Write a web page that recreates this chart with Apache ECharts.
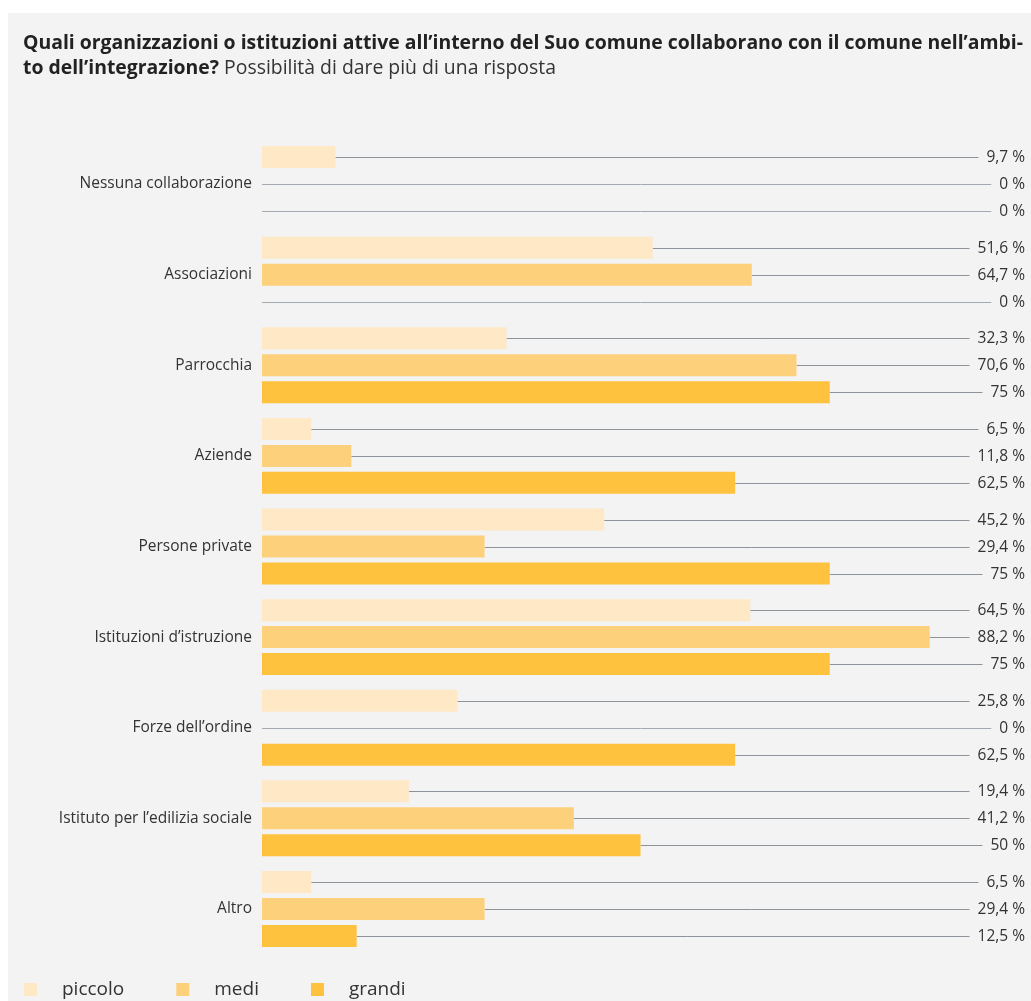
<!DOCTYPE html>
<html>
<head>
<meta charset="utf-8">
<script src="https://cdn.jsdelivr.net/npm/echarts@6/dist/echarts.min.js"></script>
<style>
  html, body { margin: 0; padding: 0; background: #ffffff; }
  #chart { width: 1031px; height: 1001px; }
</style>
</head>
<body>
<div id="chart"></div>
<script>
var categories = ['Nessuna collaborazione', 'Associazioni', 'Parrocchia', 'Aziende', 'Persone private',
    'Istituzioni d\u2019istruzione', 'Forze dell\u2019ordine', 'Istituto per l\u2019edilizia sociale', 'Altro'];
var seriesNames = ['piccolo', 'medi', 'grandi'];
var piccolo = [9.7, 51.6, 32.3, 6.5, 45.2, 64.5, 25.8, 19.4, 6.5];
var medi = [0, 64.7, 70.6, 11.8, 29.4, 88.2, 0, 41.2, 29.4];
var grandi = [0, 0, 75, 62.5, 75, 75, 62.5, 50, 12.5];

var chartDom = document.getElementById('chart');
var myChart = echarts.init(chartDom);
var option;

const colors = ['#fee8c5', '#fdd07c', '#fec23e'];
const bgColor = '#f2f3f2';
const font = 'Open Sans';

function fmt(v) {
    return String(v).replace('.', ',') + ' %';
}

// connector line from bar end to the right edge, with value label
function connector(k) {
    return function (params, api) {
        var v = api.value(0);
        var c = api.value(1);
        var off = (k - 1) * 27;
        var p0 = api.coord([v, c]);
        var p1 = api.coord([100, c]);
        var y = Math.round(p0[1] + off) + 0.5;
        return {
            type: 'group',
            children: [
                {
                    type: 'line',
                    shape: {x1: p0[0], y1: y, x2: p1[0], y2: y},
                    style: {stroke: v === 0 ? '#a3a9b0' : '#8d939b', lineWidth: 1}
                },
                {
                    type: 'text',
                    x: 1025,
                    y: y,
                    style: {
                        text: fmt(v),
                        align: 'right',
                        verticalAlign: 'middle',
                        fill: '#333333',
                        font: '15.5px "' + font + '"',
                        backgroundColor: bgColor,
                        padding: [2, 0, 2, 8]
                    }
                }
            ]
        };
    };
}

var data = [piccolo, medi, grandi];
var series = [];
for (var k = 0; k < 3; k++) {
    series.push({
        name: seriesNames[k],
        type: 'bar',
        data: data[k],
        barWidth: 22,
        barGap: '22.7%',
        itemStyle: {color: colors[k]},
        z: 3
    });
}
for (var k = 0; k < 3; k++) {
    series.push({
        type: 'custom',
        renderItem: connector(k),
        clip: false,
        data: data[k].map(function (v, i) { return [v, i]; }),
        encode: {x: 0, y: 1},
        silent: true,
        z: 2
    });
}

option = {
    backgroundColor: '#ffffff',
    animation: false,
    textStyle: {fontFamily: font},
    graphic: [
        {
            type: 'rect',
            shape: {x: 8, y: 13, width: 1031 - 8, height: 1001 - 13},
            style: {fill: bgColor},
            z: -10,
            silent: true
        },
        {
            type: 'text',
            left: 23,
            top: 34,
            style: {
                text: '{b|Quali organizzazioni o istituzioni attive all\u2019interno del Suo comune collaborano con il comune nell\u2019ambi-}\n{b|to dell\u2019integrazione?}{n| Possibilit\u00e0 di dare pi\u00f9 di una risposta}',
                rich: {
                    b: {font: 'bold 19.4px "' + font + '"', fill: '#222222', lineHeight: 25},
                    n: {font: '19.4px "' + font + '"', fill: '#333333', lineHeight: 25}
                }
            }
        }
    ],
    legend: {
        left: 24,
        bottom: 2,
        padding: 0,
        icon: 'rect',
        itemWidth: 13,
        itemHeight: 13,
        itemGap: 52,
        data: seriesNames,
        textStyle: {fontSize: 19, color: '#333333', fontFamily: font, padding: [0, 0, 0, 20]}
    },
    grid: {
        left: 262,
        right: 12,
        top: 138.7,
        bottom: 46.7,
        containLabel: false
    },
    xAxis: {
        type: 'value',
        min: 0,
        max: 100,
        show: false
    },
    yAxis: {
        type: 'category',
        inverse: true,
        data: categories,
        axisLine: {show: false},
        axisTick: {show: false},
        axisLabel: {fontSize: 15.5, color: '#333333', margin: 10, fontFamily: font}
    },
    series: series
};

option && myChart.setOption(option);
</script>
</body>
</html>
